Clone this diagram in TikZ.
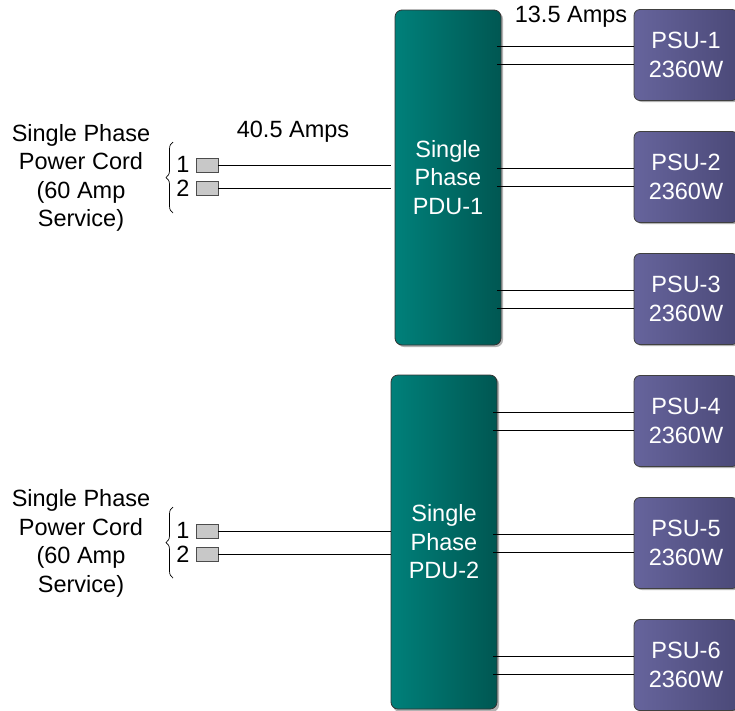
\documentclass[tikz,border=0pt]{standalone}
\usepackage{fontspec}
\setmainfont{Liberation Sans}
\usetikzlibrary{decorations.pathreplacing,calc}
\definecolor{tealL}{HTML}{00807A}
\definecolor{tealR}{HTML}{005752}
\definecolor{psuL}{HTML}{66649C}
\definecolor{psuR}{HTML}{4B4978}
\definecolor{plugfill}{HTML}{C8C8C8}
\tikzset{
  pdubox/.style={draw=black!80, line width=0.8pt, rounded corners=7pt,
    left color=tealL, right color=tealR, minimum width=106pt,
    minimum height=335pt, text=white, align=center,
    font=\fontsize{23.5}{28.5}\selectfont},
  psubox/.style={draw=black!75, line width=0.8pt, rounded corners=6pt,
    left color=psuL, right color=psuR, minimum width=104pt,
    minimum height=91pt, text=white, align=center, inner sep=0pt,
    font=\fontsize{23.5}{29}\selectfont},
  plugbox/.style={draw=black!70, line width=0.8pt, fill=plugfill,
    minimum width=22pt, minimum height=14pt, inner sep=0pt},
  shadowbox/.style={fill=black!30, rounded corners=7pt},
  txt/.style={font=\fontsize{23.5}{28.5}\selectfont, align=center, inner sep=0pt},
  wire/.style={line width=0.9pt, black},
  bracestyle/.style={decorate, decoration={brace, amplitude=7pt, mirror}, line width=0.7pt}
}
\begin{document}
\begin{tikzpicture}[x=1pt, y=-1pt]
\useasboundingbox (0,0) rectangle (735,710);

% soft shadows behind the PDUs
\fill[shadowbox] (397,12) rectangle (503,347);
\fill[shadowbox] (393,377) rectangle (499,712);

% power distribution units
\node[pdubox] (pdu1) at (448,177.5) {Single\\Phase\\PDU-1};
\node[pdubox, minimum height=334pt] (pdu2) at (444,542) {Single\\Phase\\PDU-2};

% power supply units
\foreach \n/\y in {1/55, 2/177, 3/299, 4/421, 5/543, 6/665} {
  \fill[black!30, rounded corners=6pt] (636,{\y-44}) rectangle (740,{\y+47});
  \node[psubox] (psu\n) at (686,\y) {PSU-\n\\2360W};
}

% PDU to PSU feeds
\foreach \n/\p in {1/pdu1, 2/pdu1, 3/pdu1, 4/pdu2, 5/pdu2, 6/pdu2} {
  \draw[wire] ([xshift=-4pt,yshift=9pt]psu\n.west -| \p.east) -- ([yshift=9pt]psu\n.west);
  \draw[wire] ([xshift=-4pt,yshift=-9.5pt]psu\n.west -| \p.east) -- ([yshift=-9.5pt]psu\n.west);
}

% current labels
\node[txt] (amps1) at (571,17) {13.5 Amps};
\node[txt] (amps2) at (293,132) {40.5 Amps};

% cord plugs, upper group
\node[plugbox] (pa1) at (207,165) {};
\node[plugbox] (pa2) at (207,188) {};
\node[txt] (na1) at (183,164) {1};
\node[txt] (na2) at (183,188) {2};
\draw[wire] (pa1.east) -- ([xshift=-4pt]pa1.east -| pdu1.west);
\draw[wire] (pa2.east) -- ([xshift=-4pt]pa2.east -| pdu1.west);
\coordinate (ba1) at (173,142);
\coordinate (ba2) at (173,213);
\draw[bracestyle] (ba1) -- (ba2);
\node[txt] (cord1) at (81,178) {Single Phase\\Power Cord\\(60 Amp\\Service)};

% cord plugs, lower group
\node[plugbox] (pb1) at (207,531) {};
\node[plugbox] (pb2) at (207,554.5) {};
\node[txt] (nb1) at (183,530) {1};
\node[txt] (nb2) at (183,554) {2};
\draw[wire] (pb1.east) -- (pb1.east -| pdu2.west);
\draw[wire] (pb2.east) -- (pb2.east -| pdu2.west);
\coordinate (bb1) at (173,507);
\coordinate (bb2) at (173,578);
\draw[bracestyle] (bb1) -- (bb2);
\node[txt] (cord2) at (81,543.5) {Single Phase\\Power Cord\\(60 Amp\\Service)};
\end{tikzpicture}
\end{document}
